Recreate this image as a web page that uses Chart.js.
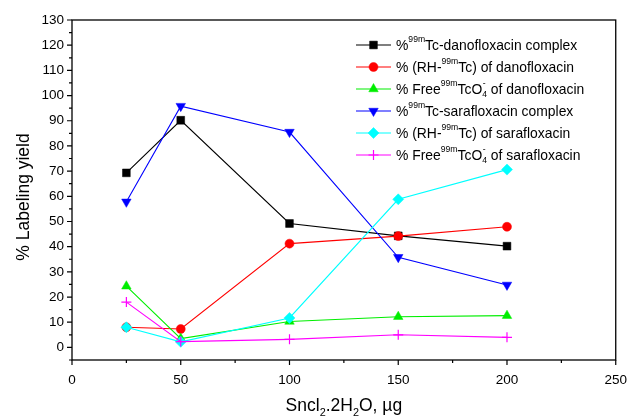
<!DOCTYPE html>
<html>
<head>
<meta charset="utf-8">
<script src="https://cdn.jsdelivr.net/npm/chart.js@4.4.1/dist/chart.umd.min.js"></script>
<style>
  html, body { margin: 0; padding: 0; background: #fff; }
  #wrap { width: 634px; height: 418px; position: relative; }
</style>
</head>
<body>
<div id="wrap"><canvas id="c"></canvas></div>
<script>
// --- data ---
const doses = [25, 50, 100, 150, 200];            // SnCl2.2H2O, ug
const danoComplex = [69.3, 90.2, 49.2, 44.3, 40.2];
const danoRH      = [8.0, 7.3, 41.2, 44.2, 47.9];
const danoFree    = [24.3, 3.5, 10.3, 12.2, 12.6];
const saraComplex = [57.8, 95.8, 85.5, 35.8, 24.8];
const saraRH      = [8.0, 2.2, 11.7, 58.8, 70.6];
const saraFree    = [18.0, 2.3, 3.2, 5.0, 4.0];
const xTicks = [0, 50, 100, 150, 200, 250];
const yTicks = [0, 10, 20, 30, 40, 50, 60, 70, 80, 90, 100, 110, 120, 130];

// legend labels as rich-text runs (sup / sub)
const legendLabels = [
  [["%"], ["99m", "sup"], ["Tc-danofloxacin complex"]],
  [["% (RH-"], ["99m", "sup"], ["Tc) of danofloxacin"]],
  [["% Free"], ["99m", "sup"], ["TcO"], ["4", "sub", "-"], [" of danofloxacin"]],
  [["%"], ["99m", "sup"], ["Tc-sarafloxacin complex"]],
  [["% (RH-"], ["99m", "sup"], ["Tc) of sarafloxacin"]],
  [["% Free"], ["99m", "sup"], ["TcO"], ["4", "sub", "-"], [" of sarafloxacin"]]
];
const xTitle = [["Sncl"], ["2", "sub"], [".2H"], ["2", "sub"], ["O, \u00b5g"]];
const yTitle = "% Labeling yield";

const FONT = "'Liberation Sans', Arial, Helvetica, sans-serif";

const series = [
  { data: danoComplex, color: "#000000", style: "rect",     r: 5.5 },
  { data: danoRH,      color: "#ff0000", style: "circle",   r: 4.5 },
  { data: danoFree,    color: "#00ee00", style: "triangle", r: 5.5 },
  { data: saraComplex, color: "#0000ff", style: "triangle", r: 5.5, rot: 180 },
  { data: saraRH,      color: "#00ffff", style: "rectRot",  r: 5.5 },
  { data: saraFree,    color: "#ff00ff", style: "cross",    r: 5 }
];

const datasets = series.map((s, i) => ({
  data: doses.map((d, k) => ({ x: d, y: s.data[k] })),
  borderColor: s.color,
  backgroundColor: s.color,
  borderWidth: 1.1,
  pointStyle: s.style,
  pointRadius: s.r,
  pointRotation: s.rot || 0,
  pointBorderWidth: s.style === "cross" ? 1.2 : 0.5,
  tension: 0,
  order: 6 - i
}));

// draws text runs with superscripts / subscripts
function drawRich(ctx, runs, x, y, size) {
  let cx = x;
  for (const [t, kind, extra] of runs) {
    if (!kind) {
      ctx.font = size + "px " + FONT;
      ctx.fillText(t, cx, y);
      cx += ctx.measureText(t).width;
    } else {
      const s = size * 0.62;
      ctx.font = s + "px " + FONT;
      const dy = kind === "sup" ? -size * 0.45 : size * 0.3;
      ctx.fillText(t, cx, y + dy);
      let w = ctx.measureText(t).width;
      if (extra) {
        ctx.fillText(extra, cx + 0.5, y - size * 0.45);
        w = Math.max(w, ctx.measureText(extra).width + 0.5);
      }
      cx += w;
    }
  }
  return cx - x;
}
function richWidth(ctx, runs, size) {
  let w = 0;
  for (const [t, kind, extra] of runs) {
    ctx.font = (kind ? size * 0.62 : size) + "px " + FONT;
    let ww = ctx.measureText(t).width;
    if (extra) ww = Math.max(ww, ctx.measureText(extra).width + 0.5);
    w += ww;
  }
  return w;
}

const framePlugin = {
  id: "frame",
  afterDraw(chart) {
    const ctx = chart.ctx, a = chart.chartArea;
    const xs = chart.scales.x, ys = chart.scales.y;
    ctx.save();
    ctx.strokeStyle = "#000";
    ctx.lineWidth = 1.3;
    ctx.strokeRect(a.left, a.top, a.right - a.left, a.bottom - a.top);
    ctx.lineWidth = 1.2;
    ctx.beginPath();
    for (const t of xs.ticks) {
      const px = xs.getPixelForValue(t.value);
      const len = xTicks.includes(t.value) ? 5 : 3;
      ctx.moveTo(px, a.bottom); ctx.lineTo(px, a.bottom + len);
    }
    for (const t of ys.ticks) {
      const py = ys.getPixelForValue(t.value);
      const len = yTicks.includes(t.value) ? 5 : 3;
      ctx.moveTo(a.left, py); ctx.lineTo(a.left - len, py);
    }
    ctx.stroke();

    // axis titles
    ctx.fillStyle = "#000";
    ctx.textBaseline = "alphabetic";
    ctx.textAlign = "left";
    const tw = richWidth(ctx, xTitle, 17.5);
    drawRich(ctx, xTitle, (a.left + a.right) / 2 - tw / 2, 411, 17.5);
    ctx.save();
    ctx.translate(29, 197);
    ctx.rotate(-Math.PI / 2);
    ctx.font = "17.5px " + FONT;
    ctx.textAlign = "center";
    ctx.fillText(yTitle, 0, 0);
    ctx.restore();

    // legend
    ctx.textAlign = "left";
    ctx.textBaseline = "middle";
    legendLabels.forEach((runs, i) => {
      const y = 45 + i * 22;
      const s = series[i];
      ctx.strokeStyle = s.color;
      ctx.lineWidth = 1.1;
      ctx.beginPath();
      ctx.moveTo(356, y); ctx.lineTo(391, y);
      ctx.stroke();
      ctx.fillStyle = s.color;
      ctx.lineWidth = s.style === "cross" ? 1.2 : 0.5;
      Chart.helpers.drawPoint(ctx, { pointStyle: s.style, radius: s.r, rotation: s.rot || 0, borderWidth: ctx.lineWidth }, 373.5, y);
      ctx.fillStyle = "#000";
      drawRich(ctx, runs, 396, y + 1, 13.9);
    });
    ctx.restore();
  }
};

new Chart(document.getElementById("c"), {
  type: "line",
  data: { datasets },
  options: {
    responsive: true,
    maintainAspectRatio: false,
    animation: false,
    layout: { padding: { top: 20, right: 13, left: 0, bottom: 0 } },
    plugins: { legend: { display: false }, tooltip: { enabled: false } },
    scales: {
      x: {
        type: "linear", min: 0, max: 250,
        border: { display: false },
        grid: { drawOnChartArea: false, drawTicks: true, tickLength: 5, color: "rgba(0,0,0,0)" },
        ticks: {
          stepSize: 25, padding: 7, color: "#000", maxRotation: 0, autoSkip: false,
          font: { family: FONT, size: 13.5 },
          callback: v => (xTicks.includes(v) ? String(v) : "")
        },
        afterFit(scale) { scale.height = 58; }
      },
      y: {
        type: "linear", min: -5, max: 130,
        border: { display: false },
        grid: { drawOnChartArea: false, drawTicks: true, tickLength: 5, color: "rgba(0,0,0,0)" },
        ticks: {
          stepSize: 5, padding: 3, color: "#000", autoSkip: false,
          font: { family: FONT, size: 13.5 },
          callback: v => (yTicks.includes(v) ? String(v) : "")
        },
        afterFit(scale) { scale.width = 72; }
      }
    }
  },
  plugins: [framePlugin]
});
</script>
</body>
</html>
